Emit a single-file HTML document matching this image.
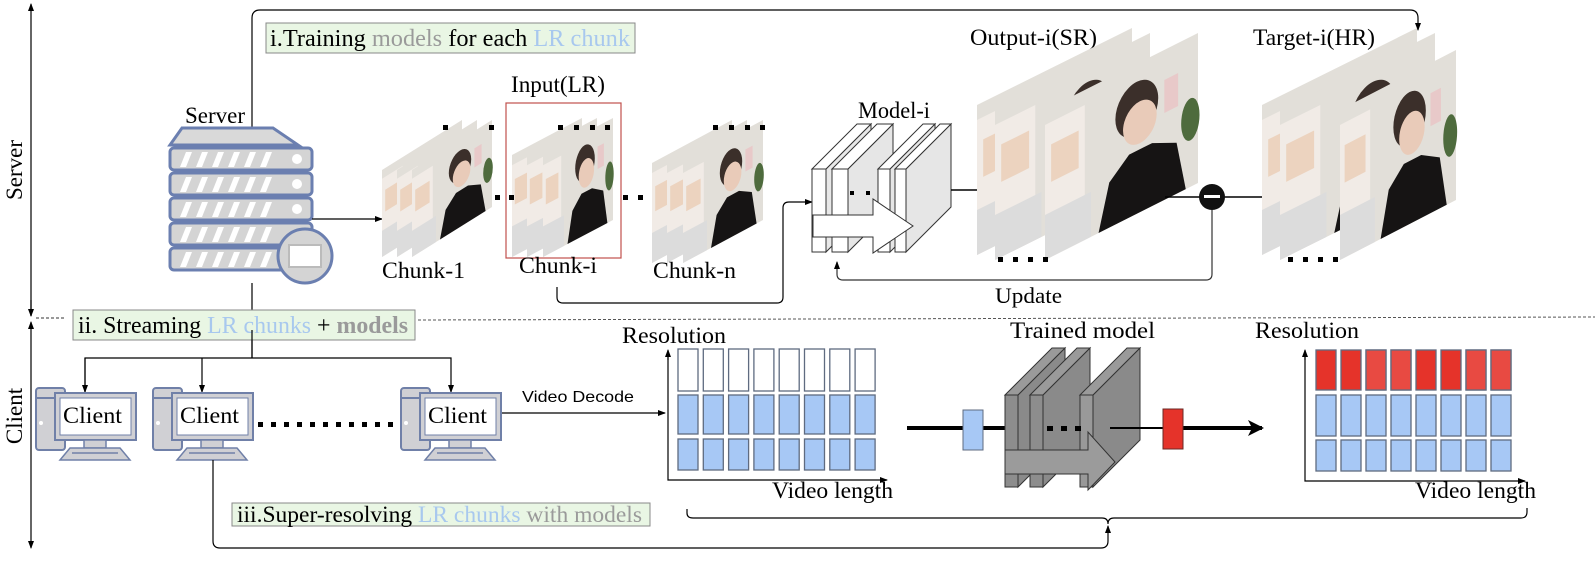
<!DOCTYPE html>
<html><head><meta charset="utf-8"><style>
html,body{margin:0;padding:0;background:#fff;}
svg{display:block;font-family:"Liberation Serif",serif;}
</style></head><body>
<svg width="1595" height="561" viewBox="0 0 1595 561" xmlns="http://www.w3.org/2000/svg">
<defs>
<marker id="ar" markerWidth="8" markerHeight="8" refX="7" refY="4" orient="auto" markerUnits="userSpaceOnUse"><path d="M0,1 L8,4 L0,7 Z" fill="#000"/></marker>
<marker id="arB" markerWidth="16" markerHeight="16" refX="14" refY="8" orient="auto" markerUnits="userSpaceOnUse"><path d="M0,0 L16,8 L0,16 L4,8 Z" fill="#000"/></marker>
<g id="photo">
<rect x="0" y="0" width="100" height="100" fill="#e2dfd9"/>
<rect x="0" y="10" width="26" height="90" fill="#f1ebe6"/>
<rect x="4" y="25" width="18" height="25" fill="#ecd3bf"/>
<rect x="0" y="70" width="30" height="30" fill="#dcdcdc"/>
<ellipse cx="60" cy="30" rx="14" ry="18" fill="#3b2f2a"/>
<ellipse cx="62" cy="40" rx="11" ry="14" fill="#e9cbb9"/>
<path d="M35,100 L42,70 L55,58 L70,58 L86,66 L92,100 Z" fill="#161414"/>
<rect x="78" y="20" width="9" height="22" fill="#e8c9c9"/>
<ellipse cx="95" cy="55" rx="6" ry="14" fill="#4e6b3d"/>
</g>
</defs>

<!-- axes left -->
<line x1="31" y1="316" x2="31" y2="4" stroke="#000" stroke-width="1.2" marker-end="url(#ar)"/>
<line x1="31" y1="300" x2="31" y2="316" stroke="#000" stroke-width="1.2" marker-end="url(#ar)"/>
<line x1="31" y1="330" x2="31" y2="322" stroke="#000" stroke-width="1.2" marker-end="url(#ar)"/>
<line x1="31" y1="330" x2="31" y2="548" stroke="#000" stroke-width="1.2" marker-end="url(#ar)"/>
<text x="0" y="0" font-size="23" transform="translate(22,170) rotate(-90)" text-anchor="middle">Server</text>
<text x="0" y="0" font-size="23" transform="translate(22,416) rotate(-90)" text-anchor="middle">Client</text>

<!-- dashed separator -->
<line x1="36" y1="318" x2="65" y2="318" stroke="#333" stroke-dasharray="3,2"/>
<line x1="418" y1="320" x2="1595" y2="317" stroke="#555" stroke-dasharray="3,2"/>

<!-- top loop -->
<path d="M252,128 L252,18 Q252,10 260,10 L1410,10 Q1418,10 1418,18 L1418,30" fill="none" stroke="#000" stroke-width="1.2" marker-end="url(#ar)"/>
<rect x="266" y="23" width="369" height="30" fill="#e9f6e4" stroke="#888"/>
<text x="270" y="46" font-size="24" textLength="360" lengthAdjust="spacingAndGlyphs"><tspan>i.Training </tspan><tspan fill="#9a9a9a">models</tspan><tspan> for each  </tspan><tspan fill="#a8c8ee">LR chunk</tspan></text>

<!-- server -->
<text x="185" y="123" font-size="23" textLength="60" lengthAdjust="spacingAndGlyphs">Server</text>
<polygon points="182,128 273,128 298,145 170,145" fill="#d9d9d9" stroke="#6b7fb0" stroke-width="3"/>
<g fill="#d4d4d4" stroke="#6b7fb0" stroke-width="3">
<rect x="170" y="148" width="142" height="22" rx="4"/>
<rect x="170" y="173" width="142" height="22" rx="4"/>
<rect x="170" y="198" width="142" height="22" rx="4"/>
<rect x="170" y="223" width="142" height="22" rx="4"/>
<rect x="170" y="248" width="142" height="22" rx="4"/>
</g>
<g fill="#fff">
<g id="stripes"><polygon points="180,167 186,152 192,152 186,167"/><polygon points="196,167 202,152 208,152 202,167"/><polygon points="212,167 218,152 224,152 218,167"/><polygon points="228,167 234,152 240,152 234,167"/><polygon points="244,167 250,152 256,152 250,167"/><polygon points="260,167 266,152 272,152 266,167"/></g>
<use href="#stripes" y="25"/><use href="#stripes" y="50"/><use href="#stripes" y="75"/><use href="#stripes" y="100"/>
<circle cx="297" cy="159" r="5"/><circle cx="297" cy="184" r="5"/><circle cx="297" cy="209" r="5"/>
</g>
<circle cx="305" cy="256" r="27" fill="#d4d4d4" stroke="#6b7fb0" stroke-width="3"/>
<rect x="289" y="245" width="32" height="22" fill="#fff" stroke="#bbb" stroke-width="2"/>
<line x1="312" y1="219" x2="382" y2="219" stroke="#000" stroke-width="1.2" marker-end="url(#ar)"/>
<line x1="252" y1="283" x2="252" y2="358" stroke="#000" stroke-width="1.2"/>

<!-- chunks -->
<use href="#photo" transform="translate(382,170) matrix(0.8,-0.5,0,0.87,0,0)"/>
<use href="#photo" transform="translate(397,170) matrix(0.8,-0.5,0,0.87,0,0)"/>
<use href="#photo" transform="translate(412,170) matrix(0.8,-0.5,0,0.87,0,0)"/>
<use href="#photo" transform="translate(512,155) matrix(0.7,-0.37,0,1.02,0,0)"/>
<use href="#photo" transform="translate(527,155) matrix(0.7,-0.37,0,1.02,0,0)"/>
<use href="#photo" transform="translate(543,155) matrix(0.7,-0.37,0,1.02,0,0)"/>
<use href="#photo" transform="translate(652,163) matrix(0.8,-0.43,0,1.0,0,0)"/>
<use href="#photo" transform="translate(667,163) matrix(0.8,-0.43,0,1.0,0,0)"/>
<use href="#photo" transform="translate(683,163) matrix(0.8,-0.43,0,1.0,0,0)"/>
<rect x="506" y="103" width="115" height="155" fill="none" stroke="#c0504d" stroke-width="1.2"/>
<g fill="#000">
<rect x="443" y="125" width="5" height="5"/><rect x="489" y="125" width="5" height="5"/>
<rect x="558" y="125" width="5" height="5"/><rect x="574" y="125" width="5" height="5"/><rect x="590" y="125" width="5" height="5"/><rect x="605" y="125" width="5" height="5"/>
<rect x="713" y="125" width="5" height="5"/><rect x="729" y="125" width="5" height="5"/><rect x="745" y="125" width="5" height="5"/><rect x="760" y="125" width="5" height="5"/>
<rect x="495" y="195" width="5" height="5"/><rect x="509" y="195" width="5" height="5"/>
<rect x="623" y="195" width="5" height="5"/><rect x="638" y="195" width="5" height="5"/>
</g>
<text x="511" y="92" font-size="23" textLength="94" lengthAdjust="spacingAndGlyphs">Input(LR)</text>
<text x="382" y="278" font-size="23" textLength="83" lengthAdjust="spacingAndGlyphs">Chunk-1</text>
<text x="519" y="273" font-size="23" textLength="78" lengthAdjust="spacingAndGlyphs">Chunk-i</text>
<text x="653" y="278" font-size="23" textLength="83" lengthAdjust="spacingAndGlyphs">Chunk-n</text>
<path d="M557,287 L557,297 Q557,303 563,303 L777,303 Q783,303 783,297 L783,208 Q783,202 789,202 L812,202" fill="none" stroke="#000" stroke-width="1.2" marker-end="url(#ar)"/>

<!-- model-i -->
<text x="858" y="118" font-size="23" textLength="72" lengthAdjust="spacingAndGlyphs">Model-i</text>
<g stroke="#333" stroke-width="1">
<polygon points="826,169 871,124 871,207 826,252" fill="#e8e8e8"/>
<polygon points="812,169 857,124 871,124 826,169" fill="#fff"/>
<rect x="812" y="169" width="14" height="83" fill="#fff"/>
<polygon points="848,169 893,124 893,207 848,252" fill="#e6e6e6"/>
<polygon points="832,169 877,124 893,124 848,169" fill="#fff"/>
<rect x="832" y="169" width="16" height="83" fill="#fff"/>
<polygon points="890,169 935,124 935,207 890,252" fill="#e6e6e6"/>
<polygon points="878,169 923,124 935,124 890,169" fill="#fff"/>
<rect x="878" y="169" width="12" height="83" fill="#fff"/>
<polygon points="906,169 951,124 951,207 906,252" fill="#e6e6e6"/>
<polygon points="895,169 940,124 951,124 906,169" fill="#fff"/>
<rect x="895" y="169" width="11" height="83" fill="#fff"/>
<polygon points="813,215 873,215 873,199 913,226 873,253 873,237 813,237" fill="#fff"/>
</g>
<rect x="850" y="191" width="4" height="4"/><rect x="866" y="191" width="4" height="4"/>
<line x1="951" y1="190" x2="977" y2="190" stroke="#000" stroke-width="1.5"/>

<!-- output / target -->
<text x="970" y="45" font-size="23" textLength="127" lengthAdjust="spacingAndGlyphs">Output-i(SR)</text>
<use href="#photo" transform="translate(977,105) matrix(1.55,-0.77,0,1.5,0,0)"/>
<use href="#photo" transform="translate(995,110) matrix(1.55,-0.77,0,1.5,0,0)"/>
<use href="#photo" transform="translate(1045,110) matrix(1.53,-0.77,0,1.5,0,0)"/>
<text x="1253" y="45" font-size="23" textLength="122" lengthAdjust="spacingAndGlyphs">Target-i(HR)</text>
<use href="#photo" transform="translate(1262,105) matrix(1.55,-0.77,0,1.5,0,0)"/>
<use href="#photo" transform="translate(1280,110) matrix(1.55,-0.77,0,1.5,0,0)"/>
<use href="#photo" transform="translate(1340,110) matrix(1.16,-0.6,0,1.5,0,0)"/>
<g fill="#000">
<rect x="998" y="257" width="5" height="5"/><rect x="1013" y="257" width="5" height="5"/><rect x="1028" y="257" width="5" height="5"/><rect x="1043" y="257" width="5" height="5"/>
<rect x="1288" y="257" width="5" height="5"/><rect x="1303" y="257" width="5" height="5"/><rect x="1318" y="257" width="5" height="5"/><rect x="1333" y="257" width="5" height="5"/>
</g>
<line x1="1165" y1="197" x2="1262" y2="197" stroke="#000" stroke-width="1.5"/>
<circle cx="1212" cy="197" r="13" fill="#111"/>
<rect x="1204" y="195" width="16" height="3" fill="#fff"/>
<path d="M1212,210 L1212,274 Q1212,280 1206,280 L843,280 Q837,280 837,274 L837,262" fill="none" stroke="#333" stroke-width="1.2" marker-end="url(#ar)"/>
<text x="995" y="303" font-size="22" textLength="67" lengthAdjust="spacingAndGlyphs">Update</text>

<!-- streaming -->
<rect x="73" y="310" width="342" height="30" fill="#e9f6e4" stroke="#888"/>
<text x="78" y="333" font-size="24" textLength="330" lengthAdjust="spacingAndGlyphs"><tspan>ii. Streaming </tspan><tspan fill="#a8c8ee">LR chunks</tspan><tspan> + </tspan><tspan fill="#9a9a9a" font-weight="bold">models</tspan></text>
<line x1="252" y1="330" x2="252" y2="358" stroke="#000" stroke-width="1.2"/>
<path d="M85,392 L85,358 L451,358 L451,392" fill="none" stroke="#000" stroke-width="1.2" marker-end="url(#ar)"/>
<line x1="85" y1="358" x2="85" y2="392" stroke="#000" stroke-width="1.2" marker-end="url(#ar)"/>
<line x1="202" y1="358" x2="202" y2="392" stroke="#000" stroke-width="1.2" marker-end="url(#ar)"/>

<!-- clients -->
<g id="client">
<rect x="36" y="388" width="29" height="62" rx="3" fill="#d0d0d4" stroke="#7080a8" stroke-width="2"/>
<line x1="36" y1="398" x2="65" y2="398" stroke="#7080a8" stroke-width="2"/>
<circle cx="41" cy="423" r="2" fill="#fff"/>
<rect x="55" y="393" width="81" height="47" fill="#d0d0d4" stroke="#7080a8" stroke-width="2"/>
<rect x="60" y="398" width="71" height="37" fill="#fff" stroke="#7080a8" stroke-width="1"/>
<rect x="84" y="440" width="22" height="8" fill="#d0d0d4" stroke="#7080a8" stroke-width="1.5"/>
<polygon points="70,448 120,448 130,460 60,460" fill="#d0d0d4" stroke="#7080a8" stroke-width="1.5"/>
<line x1="72" y1="453" x2="118" y2="453" stroke="#7080a8" stroke-width="1.5"/>
<text x="63" y="423" font-size="23" textLength="59" lengthAdjust="spacingAndGlyphs">Client</text>
</g>
<use href="#client" x="117"/>
<use href="#client" x="365"/>
<g fill="#000">
<rect x="258" y="422" width="5" height="5"/><rect x="271" y="422" width="5" height="5"/><rect x="284" y="422" width="5" height="5"/><rect x="297" y="422" width="5" height="5"/><rect x="310" y="422" width="5" height="5"/><rect x="323" y="422" width="5" height="5"/><rect x="336" y="422" width="5" height="5"/><rect x="349" y="422" width="5" height="5"/><rect x="362" y="422" width="5" height="5"/><rect x="375" y="422" width="5" height="5"/><rect x="388" y="422" width="5" height="5"/>
</g>
<line x1="502" y1="413" x2="665" y2="413" stroke="#000" stroke-width="1.2" marker-end="url(#ar)"/>
<text x="522" y="402" font-size="16" font-family="Liberation Sans, sans-serif" textLength="112" lengthAdjust="spacingAndGlyphs">Video Decode</text>

<!-- chart 1 -->
<text x="622" y="343" font-size="23" textLength="104" lengthAdjust="spacingAndGlyphs">Resolution</text>
<path d="M668,352 L668,480 L887,480" fill="none" stroke="#000" stroke-width="1.2" marker-end="url(#ar)"/>
<line x1="668" y1="360" x2="668" y2="350" stroke="#000" stroke-width="1.2" marker-end="url(#ar)"/>
<g stroke="#5f6b80" stroke-width="1.3">
<g id="col1"><rect x="678" y="349" width="20" height="42" fill="#fff"/><rect x="678" y="395" width="20" height="39" fill="#a7c8f5"/><rect x="678" y="439" width="20" height="31" fill="#a7c8f5"/></g>
<use href="#col1" x="25.3"/><use href="#col1" x="50.6"/><use href="#col1" x="75.9"/><use href="#col1" x="101.2"/><use href="#col1" x="126.5"/><use href="#col1" x="151.8"/><use href="#col1" x="177.1"/>
</g>
<text x="772" y="498" font-size="23" textLength="121" lengthAdjust="spacingAndGlyphs">Video length</text>

<!-- trained model -->
<text x="1010" y="338" font-size="23" textLength="145" lengthAdjust="spacingAndGlyphs">Trained model</text>
<line x1="907" y1="428" x2="1005" y2="428" stroke="#000" stroke-width="4"/>
<rect x="963" y="410" width="20" height="40" fill="#a7c8f5" stroke="#5f6b80"/>
<g stroke="#333" stroke-width="1">
<polygon points="1018,395 1065,348 1065,440 1018,487" fill="#8a8a8a"/>
<polygon points="1005,395 1052,348 1065,348 1018,395" fill="#9a9a9a"/>
<rect x="1005" y="395" width="13" height="92" fill="#8d8d8d"/>
<polygon points="1043,395 1090,348 1090,440 1043,487" fill="#8a8a8a"/>
<polygon points="1030,395 1077,348 1090,348 1043,395" fill="#9a9a9a"/>
<rect x="1030" y="395" width="13" height="92" fill="#8d8d8d"/>
<polygon points="1093,395 1140,348 1140,440 1093,487" fill="#8a8a8a"/>
<polygon points="1080,395 1127,348 1140,348 1093,395" fill="#9a9a9a"/>
<rect x="1080" y="395" width="13" height="92" fill="#999"/>
<polygon points="1005,450 1088,450 1088,432 1115,462 1088,490 1088,474 1005,474" fill="#9b9b9b"/>
</g>
<g fill="#000"><rect x="1047" y="426" width="6" height="5"/><rect x="1061" y="426" width="6" height="5"/><rect x="1075" y="426" width="6" height="5"/></g>
<line x1="1110" y1="428" x2="1163" y2="428" stroke="#000" stroke-width="2"/>
<line x1="1183" y1="428" x2="1262" y2="428" stroke="#000" stroke-width="4" marker-end="url(#arB)"/>
<rect x="1163" y="409" width="20" height="40" fill="#e5332a" stroke="#6a2a25"/>

<!-- chart 2 -->
<text x="1255" y="338" font-size="23" textLength="104" lengthAdjust="spacingAndGlyphs">Resolution</text>
<path d="M1305,352 L1305,481 L1525,481" fill="none" stroke="#000" stroke-width="1.2" marker-end="url(#ar)"/>
<line x1="1305" y1="360" x2="1305" y2="350" stroke="#000" stroke-width="1.2" marker-end="url(#ar)"/>
<g stroke="#5f6b80" stroke-width="1.3">
<g id="col2"><rect x="1316" y="350" width="20" height="40" fill="#e5332a"/><rect x="1316" y="395" width="20" height="41" fill="#a7c8f5"/><rect x="1316" y="440" width="20" height="31" fill="#a7c8f5"/></g>
<use href="#col2" x="25"/><use href="#col2" x="50"/><use href="#col2" x="75"/><use href="#col2" x="100"/><use href="#col2" x="125"/><use href="#col2" x="150"/><use href="#col2" x="175"/>
</g>
<g fill="#e84a42" stroke="#5f6b80" stroke-width="1.3"><rect x="1366" y="350" width="20" height="40"/><rect x="1391" y="350" width="20" height="40"/><rect x="1466" y="350" width="20" height="40"/><rect x="1491" y="350" width="20" height="40"/></g>
<text x="1415" y="498" font-size="23" textLength="121" lengthAdjust="spacingAndGlyphs">Video length</text>

<!-- brace and bottom loop -->
<path d="M687,509 L687,513 Q687,518 693,518 L1102,518 Q1108,518 1108,524 Q1108,518 1114,518 L1521,518 Q1527,518 1527,512 L1527,508" fill="none" stroke="#000" stroke-width="1.2"/>
<path d="M213,460 L213,541 Q213,548 220,548 L1101,548 Q1108,548 1108,541 L1108,526" fill="none" stroke="#000" stroke-width="1.2" marker-end="url(#ar)"/>
<rect x="232" y="503" width="418" height="23" fill="#e9f6e4" stroke="#888"/>
<text x="237" y="522" font-size="23" textLength="405" lengthAdjust="spacingAndGlyphs"><tspan>iii.Super-resolving </tspan><tspan fill="#a8c8ee">LR chunks</tspan><tspan fill="#9a9a9a"> with models</tspan></text>
</svg>
</body></html>
